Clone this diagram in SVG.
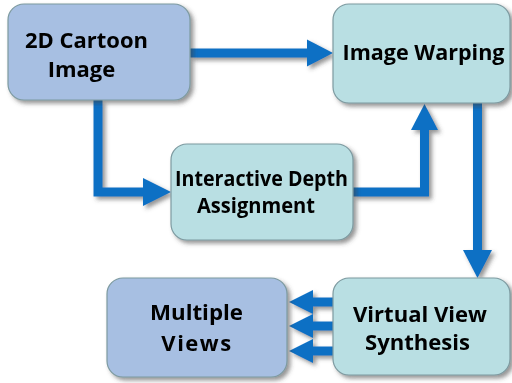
<svg xmlns="http://www.w3.org/2000/svg" width="512" height="383" viewBox="0 0 512 383">
  <defs>
    <filter id="shadow" x="-20%" y="-20%" width="140%" height="150%">
      <feDropShadow dx="3" dy="3" stdDeviation="2" flood-color="#404040" flood-opacity="0.55"/>
    </filter>
    <style>
      .blue { fill: #a7bfe2; stroke: #7d9aa0; stroke-width: 1.2; }
      .teal { fill: #b9dfe3; stroke: #7d9aa0; stroke-width: 1.2; }
      .label { font-family: "Open Sans", "Noto Sans", "Liberation Sans", sans-serif; font-weight: 700; font-size: 22px; fill: #000; text-anchor: middle; }
      .wire { fill: none; stroke: #0a70c4; stroke-width: 9; stroke-linejoin: miter; }
      .head { fill: #0a70c4; }
    </style>
  </defs>
  <rect width="512" height="383" fill="#ffffff"/>

  <!-- connectors -->
  <g id="connectors" filter="url(#shadow)">
    <!-- cartoon image -> warping -->
    <path class="wire" d="M190 53 H309"/>
    <polygon class="head" points="307,39.5 333,53 307,66.5"/>
    <!-- cartoon image -> depth assignment -->
    <path class="wire" d="M98 100 V192 H145"/>
    <polygon class="head" points="143,178 171,192 143,206"/>
    <!-- depth assignment -> warping -->
    <path class="wire" d="M353 192 H424.5 V128"/>
    <polygon class="head" points="411,130 424.5,104 438,130"/>
    <!-- warping -> view synthesis -->
    <path class="wire" d="M477.5 103 V252"/>
    <polygon class="head" points="463,250 477.5,278 492,250"/>
    <!-- view synthesis -> multiple views -->
    <path class="wire" d="M333 302 H311"/>
    <polygon class="head" points="313,290 289,302 313,314"/>
    <path class="wire" d="M333 326 H311"/>
    <polygon class="head" points="313,314 289,326 313,338"/>
    <path class="wire" d="M333 351 H311"/>
    <polygon class="head" points="313,339 289,351 313,363"/>
  </g>

  <g id="cartoon-image" filter="url(#shadow)">
    <rect class="blue" x="8" y="4" width="182" height="96" rx="16"/>
    <text class="label" x="86.5" y="48" textLength="123" lengthAdjust="spacingAndGlyphs">2D Cartoon</text>
    <text class="label" x="81.5" y="77">Image</text>
  </g>

  <g id="image-warping" filter="url(#shadow)">
    <rect class="teal" x="333" y="4" width="177" height="99" rx="16"/>
    <text class="label" x="423.5" y="60" textLength="162" lengthAdjust="spacingAndGlyphs">Image Warping</text>
  </g>

  <g id="depth-assignment" filter="url(#shadow)">
    <rect class="teal" x="171" y="144" width="182" height="96" rx="16"/>
    <text class="label" x="261.5" y="186" font-size="20" textLength="173" lengthAdjust="spacingAndGlyphs">Interactive Depth</text>
    <text class="label" x="256" y="213" font-size="20" textLength="118" lengthAdjust="spacingAndGlyphs">Assignment</text>
  </g>

  <g id="view-synthesis" filter="url(#shadow)">
    <rect class="teal" x="333" y="278" width="177" height="97" rx="16"/>
    <text class="label" x="420" y="322" textLength="134" lengthAdjust="spacingAndGlyphs">Virtual View</text>
    <text class="label" x="417.5" y="350" textLength="105" lengthAdjust="spacingAndGlyphs">Synthesis</text>
  </g>

  <g id="multiple-views" filter="url(#shadow)">
    <rect class="blue" x="107" y="278" width="180" height="99" rx="16"/>
    <text class="label" x="196.5" y="320" textLength="93" lengthAdjust="spacingAndGlyphs">Multiple</text>
    <text class="label" x="197" y="351" font-size="23" letter-spacing="1.5">Views</text>
  </g>
</svg>
